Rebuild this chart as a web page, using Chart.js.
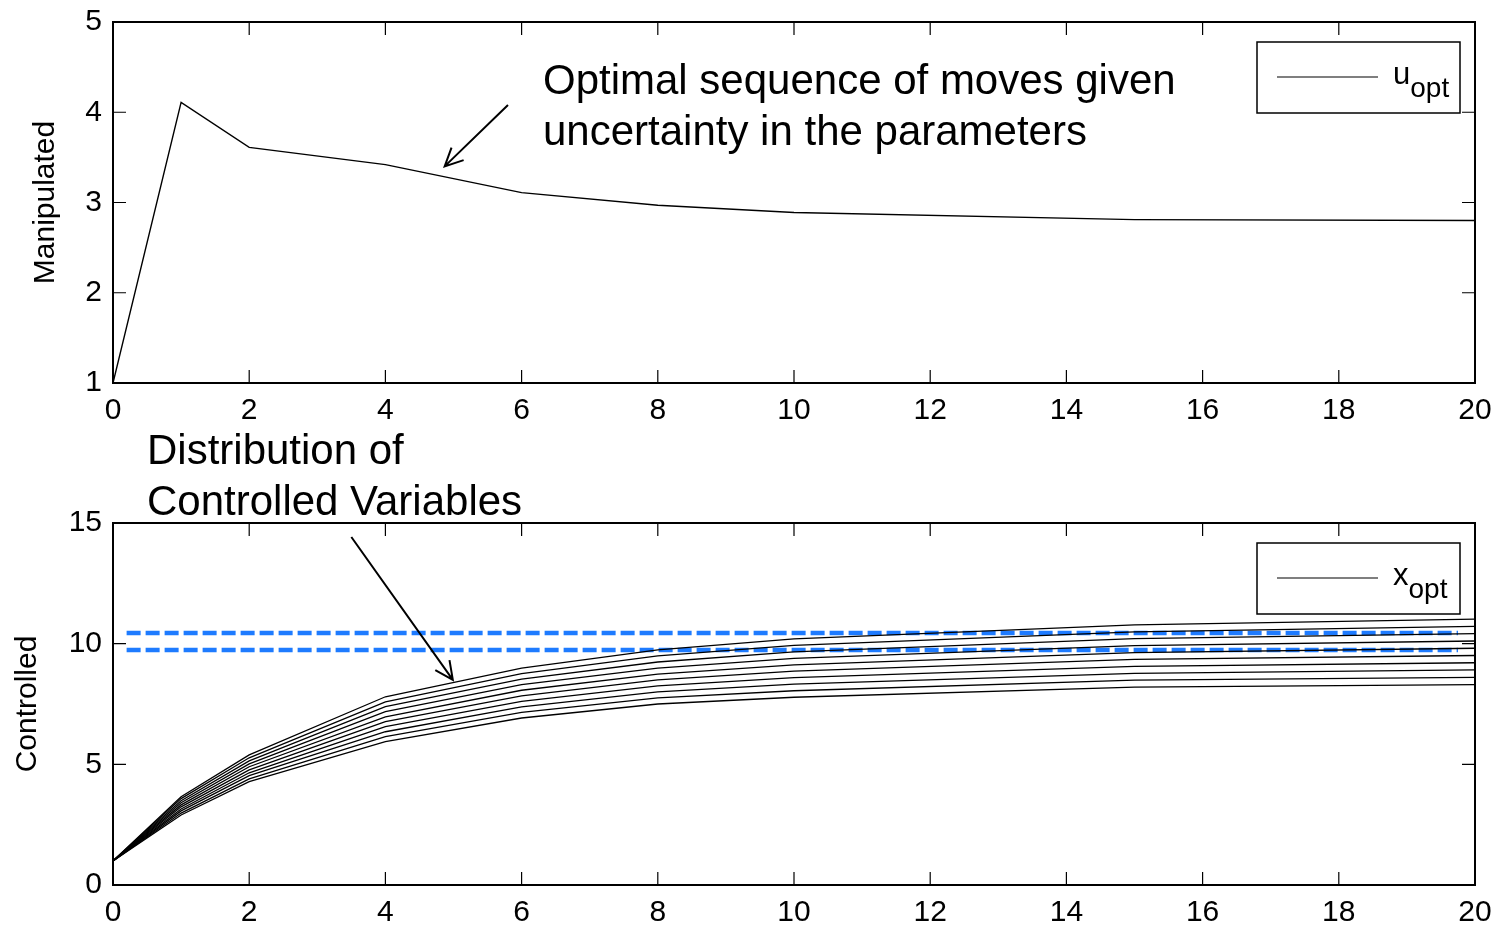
<!DOCTYPE html>
<html>
<head>
<meta charset="utf-8">
<script src="https://cdn.jsdelivr.net/npm/chart.js@4"></script>
<style>
  body { margin: 0; background: #fff; }
  #box1 { position: absolute; left: 0; top: 0; width: 1501px; height: 430px; }
  #box2 { position: absolute; left: 0; top: 430px; width: 1501px; height: 497px; }
</style>
</head>
<body>
<div id="box1"><canvas id="chartTop"></canvas></div>
<div id="box2"><canvas id="chartBottom"></canvas></div>
<script>
// time steps where the values change
const steps = [0, 1, 2, 4, 6, 8, 10, 15, 20]
// manipulated variable
const uOpt = [1, 4.11, 3.61, 3.42, 3.11, 2.97, 2.89, 2.81, 2.80]
// controlled variable, one run per parameter sample
const xOpt1  = [1, 3.66, 5.39, 7.80, 8.99, 9.74, 10.20, 10.78, 11.02]
const xOpt2  = [1, 3.58, 5.27, 7.59, 8.76, 9.49, 9.93, 10.49, 10.72]
const xOpt3  = [1, 3.49, 5.14, 7.39, 8.53, 9.24, 9.66, 10.21, 10.42]
const xOpt4  = [1, 3.41, 5.02, 7.18, 8.30, 8.99, 9.39, 9.92, 10.11]
const xOpt5  = [1, 3.32, 4.90, 6.97, 8.07, 8.74, 9.12, 9.63, 9.81]
const xOpt6  = [1, 3.24, 4.77, 6.77, 7.84, 8.50, 8.86, 9.35, 9.51]
const xOpt7  = [1, 3.15, 4.65, 6.56, 7.61, 8.25, 8.59, 9.06, 9.21]
const xOpt8  = [1, 3.07, 4.53, 6.35, 7.38, 8.00, 8.32, 8.77, 8.91]
const xOpt9  = [1, 2.98, 4.40, 6.15, 7.15, 7.75, 8.05, 8.49, 8.60]
const xOpt10 = [1, 2.90, 4.28, 5.94, 6.92, 7.50, 7.78, 8.20, 8.30]
const xRuns = [xOpt1, xOpt2, xOpt3, xOpt4, xOpt5, xOpt6, xOpt7, xOpt8, xOpt9, xOpt10]
// dashed limits
const boundX = [0.2, 19.75]
const boundHi = [10.44, 10.44]
const boundLo = [9.74, 9.74]

const FONT = 'Liberation Sans, Arial, sans-serif'
Chart.defaults.font.family = FONT
Chart.defaults.font.size = 30
Chart.defaults.color = '#000'

const toPts = (xs, ys) => xs.map((v, i) => ({x: v, y: ys[i]}))

function arrow(ctx, x0, y0, x1, y1) {
  const a = Math.atan2(y1 - y0, x1 - x0)
  const L = 20, w = 0.45
  ctx.beginPath()
  ctx.moveTo(x0, y0); ctx.lineTo(x1, y1)
  ctx.moveTo(x1 - L * Math.cos(a - w), y1 - L * Math.sin(a - w))
  ctx.lineTo(x1, y1)
  ctx.lineTo(x1 - L * Math.cos(a + w), y1 - L * Math.sin(a + w))
  ctx.stroke()
}

// matlab style box, inner ticks, legend and notes
const matlabBox = {
  id: 'matlabBox',
  afterDraw(chart, args, opts) {
    const {ctx, chartArea: ca, scales} = chart
    ctx.save()
    ctx.strokeStyle = '#000'
    ctx.lineWidth = 1.2
    ctx.beginPath()
    scales.x.ticks.forEach(t => {
      const px = scales.x.getPixelForValue(t.value)
      ctx.moveTo(px, ca.bottom); ctx.lineTo(px, ca.bottom - 13)
      ctx.moveTo(px, ca.top); ctx.lineTo(px, ca.top + 13)
    })
    scales.y.ticks.forEach(t => {
      const py = scales.y.getPixelForValue(t.value)
      ctx.moveTo(ca.left, py); ctx.lineTo(ca.left + 13, py)
      ctx.moveTo(ca.right, py); ctx.lineTo(ca.right - 13, py)
    })
    ctx.stroke()
    ctx.lineWidth = 2
    ctx.strokeRect(ca.left, ca.top, ca.right - ca.left, ca.bottom - ca.top)

    // legend
    const lx = ca.right - 218, ly = ca.top + 20
    ctx.fillStyle = '#fff'
    ctx.fillRect(lx, ly, 203, 71)
    ctx.lineWidth = 1.5
    ctx.strokeRect(lx, ly, 203, 71)
    ctx.lineWidth = 1.2
    ctx.beginPath()
    ctx.moveTo(lx + 20, ly + 35); ctx.lineTo(lx + 121, ly + 35)
    ctx.stroke()
    ctx.fillStyle = '#000'
    ctx.textBaseline = 'alphabetic'
    ctx.textAlign = 'left'
    ctx.font = '31px ' + FONT
    ctx.fillText(opts.sym, lx + 136, ly + 42)
    const sw = ctx.measureText(opts.sym).width
    ctx.font = '28px ' + FONT
    ctx.fillText('opt', lx + 136 + sw, ly + 55)

    // note text and arrow
    ctx.font = '42px ' + FONT
    ctx.textBaseline = 'middle'
    opts.note.forEach((line, i) => {
      ctx.fillText(line, ca.left + opts.noteDx, ca.top + opts.noteDy + i * 51)
    })
    const a = opts.arrow
    ctx.lineWidth = 2
    arrow(ctx, scales.x.getPixelForValue(a[0]), scales.y.getPixelForValue(a[1]),
      scales.x.getPixelForValue(a[2]), scales.y.getPixelForValue(a[3]))
    ctx.restore()
  }
}

function axes(ymin, ymax, ystep, xh, yPad) {
  return {
    x: {
      type: 'linear', min: 0, max: 20,
      ticks: {stepSize: 2, padding: 10, maxRotation: 0},
      grid: {display: false, drawTicks: false},
      border: {display: false},
      afterFit: s => { s.height = xh; s.paddingLeft = 0; s.paddingRight = 0 }
    },
    y: {
      type: 'linear', min: ymin, max: ymax,
      ticks: {stepSize: ystep, padding: 11},
      grid: {display: false, drawTicks: false},
      border: {display: false},
      title: {display: true, text: yPad.text, padding: {top: yPad.pad, bottom: 0}},
      afterFit: s => { s.width = 113; s.paddingTop = 0; s.paddingBottom = 0 }
    }
  }
}

const myChart = new Chart(document.getElementById('chartTop'), {
  type: 'line',
  data: {
    datasets: [{
      label: 'u_opt',
      data: toPts(steps, uOpt),
      borderColor: '#000',
      borderWidth: 1.4,
      pointRadius: 0,
      tension: 0
    }]
  },
  options: {
    responsive: true,
    maintainAspectRatio: false,
    animation: false,
    layout: {padding: {top: 22, right: 26, left: 0, bottom: 0}},
    plugins: {
      legend: {display: false},
      tooltip: {enabled: false},
      matlabBox: {
        sym: 'u',
        note: ['Optimal sequence of moves given', 'uncertainty in the parameters'],
        noteDx: 430, noteDy: 60,
        arrow: [5.80, 4.08, 4.87, 3.40]
      }
    },
    scales: axes(1, 5, 1, 47, {text: 'Manipulated', pad: 28})
  },
  plugins: [matlabBox]
})

const runSets = xRuns.map((r, i) => ({
  label: i === 0 ? 'x_opt' : '',
  data: toPts(steps, r),
  borderColor: '#000',
  borderWidth: 1.3,
  pointRadius: 0,
  tension: 0
}))
const limitSets = [boundHi, boundLo].map(b => ({
  label: 'limit',
  data: toPts(boundX, b),
  borderColor: '#1e7bff',
  borderWidth: 4.5,
  borderDash: [14, 5],
  pointRadius: 0
}))

const myChart2 = new Chart(document.getElementById('chartBottom'), {
  type: 'line',
  data: {datasets: runSets.concat(limitSets)},
  options: {
    responsive: true,
    maintainAspectRatio: false,
    animation: false,
    layout: {padding: {top: 93, right: 26, left: 0, bottom: 0}},
    plugins: {
      legend: {display: false},
      tooltip: {enabled: false},
      matlabBox: {
        sym: 'x',
        note: ['Distribution of', 'Controlled Variables'],
        noteDx: 34, noteDy: -71,
        arrow: [3.50, 14.42, 4.99, 8.50]
      }
    },
    scales: axes(0, 15, 5, 42, {text: 'Controlled', pad: 10})
  },
  plugins: [matlabBox]
})
</script>
</body>
</html>
